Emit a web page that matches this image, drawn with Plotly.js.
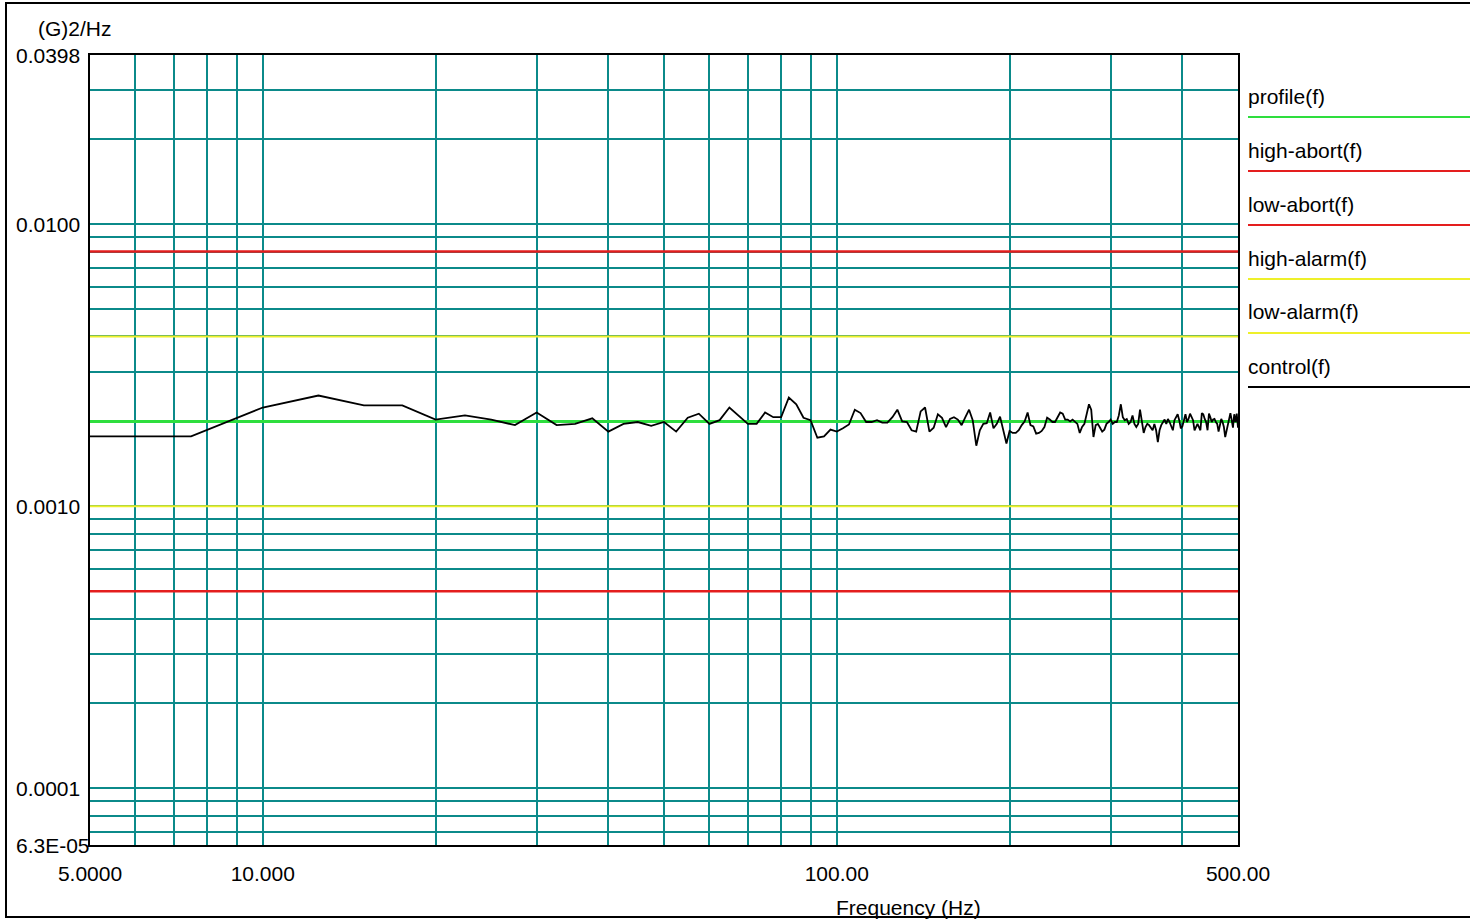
<!DOCTYPE html>
<html>
<head>
<meta charset="utf-8">
<script src="https://cdn.plot.ly/plotly-3.0.1.min.js"></script>
<style>
html,body{margin:0;padding:0;background:#fff;}
#chart{width:1474px;height:919px;}
</style>
</head>
<body>
<div id="chart"></div>
<script>
// ---------- data ----------
const controlFreq = [
  5, 7.5, 10, 12.5, 15, 17.5, 20, 22.5, 25, 27.5,
  30, 32.5, 35, 37.5, 40, 42.5, 45, 47.5, 50, 52.5,
  55, 57.5, 60, 62.5, 65, 67.5, 70, 72.5, 75, 77.5,
  80, 82.5, 85, 87.5, 90, 92.5, 95, 97.5, 100, 102.5,
  105, 107.5, 110, 112.5, 115, 117.5, 120, 122.5, 125, 127.5,
  130, 132.5, 135, 137.5, 140, 142.5, 145, 147.5, 150, 152.5,
  155, 157.5, 160, 162.5, 165, 167.5, 170, 172.5, 175, 177.5,
  180, 182.5, 185, 187.5, 190, 192.5, 195, 197.5, 200, 202.5,
  205, 207.5, 210, 212.5, 215, 217.5, 220, 222.5, 225, 227.5,
  230, 232.5, 235, 237.5, 240, 242.5, 245, 247.5, 250, 252.5,
  255, 257.5, 260, 262.5, 265, 267.5, 270, 272.5, 275, 277.5,
  280, 282.5, 285, 287.5, 290, 292.5, 295, 297.5, 300, 302.5,
  305, 307.5, 310, 312.5, 315, 317.5, 320, 322.5, 325, 327.5,
  330, 332.5, 335, 337.5, 340, 342.5, 345, 347.5, 350, 352.5,
  355, 357.5, 360, 362.5, 365, 367.5, 370, 372.5, 375, 377.5,
  380, 382.5, 385, 387.5, 390, 392.5, 395, 397.5, 400, 402.5,
  405, 407.5, 410, 412.5, 415, 417.5, 420, 422.5, 425, 427.5,
  430, 432.5, 435, 437.5, 440, 442.5, 445, 447.5, 450, 452.5,
  455, 457.5, 460, 462.5, 465, 467.5, 470, 472.5, 475, 477.5,
  480, 482.5, 485, 487.5, 490, 492.5, 495, 497.5, 500
];
const controlPSD = [
  0.00177, 0.00177, 0.00224, 0.00247, 0.00228, 0.00228, 0.00203, 0.00210, 0.00203, 0.00194,
  0.00215, 0.00194, 0.00196, 0.00205, 0.00184, 0.00196, 0.00199, 0.00193, 0.00199, 0.00184,
  0.00206, 0.00213, 0.00196, 0.00202, 0.00224, 0.00210, 0.00196, 0.00196, 0.00215, 0.00207,
  0.00207, 0.00243, 0.00230, 0.00206, 0.00202, 0.00175, 0.00177, 0.00187, 0.00184, 0.00189,
  0.00195, 0.00220, 0.00214, 0.00199, 0.00199, 0.00202, 0.00198, 0.00198, 0.00207, 0.00220,
  0.00200, 0.00199, 0.00186, 0.00184, 0.00217, 0.00224, 0.00184, 0.00190, 0.00212, 0.00206,
  0.00191, 0.00204, 0.00207, 0.00203, 0.00194, 0.00207, 0.00220, 0.00202, 0.00164, 0.00186,
  0.00196, 0.00197, 0.00215, 0.00189, 0.00196, 0.00208, 0.00186, 0.00167, 0.00185, 0.00182,
  0.00182, 0.00186, 0.00194, 0.00200, 0.00215, 0.00194, 0.00192, 0.00181, 0.00182, 0.00185,
  0.00191, 0.00206, 0.00203, 0.00199, 0.00199, 0.00207, 0.00215, 0.00213, 0.00203, 0.00203,
  0.00200, 0.00203, 0.00199, 0.00196, 0.00182, 0.00191, 0.00196, 0.00213, 0.00230, 0.00220,
  0.00176, 0.00194, 0.00196, 0.00190, 0.00184, 0.00187, 0.00196, 0.00199, 0.00203, 0.00196,
  0.00199, 0.00199, 0.00210, 0.00230, 0.00207, 0.00202, 0.00204, 0.00196, 0.00199, 0.00210,
  0.00196, 0.00191, 0.00196, 0.00220, 0.00199, 0.00182, 0.00191, 0.00196, 0.00194, 0.00190,
  0.00186, 0.00196, 0.00186, 0.00169, 0.00186, 0.00194, 0.00199, 0.00203, 0.00196, 0.00204,
  0.00199, 0.00191, 0.00186, 0.00202, 0.00207, 0.00212, 0.00202, 0.00189, 0.00192, 0.00202,
  0.00212, 0.00199, 0.00204, 0.00213, 0.00207, 0.00202, 0.00186, 0.00191, 0.00196, 0.00191,
  0.00186, 0.00214, 0.00212, 0.00204, 0.00199, 0.00186, 0.00213, 0.00207, 0.00199, 0.00203,
  0.00204, 0.00199, 0.00196, 0.00184, 0.00196, 0.00204, 0.00199, 0.00191, 0.00176, 0.00184,
  0.00196, 0.00204, 0.00214, 0.00202, 0.00190, 0.00212, 0.00199, 0.00213, 0.00190
];

const limitFreq      = [5, 500];
const profilePSD     = [0.002, 0.002];
const highAbortPSD   = [0.008, 0.008];
const lowAbortPSD    = [0.0005, 0.0005];
const highAlarmPSD   = [0.004, 0.004];
const lowAlarmPSD    = [0.001, 0.001];

const seriesNames = ['profile(f)', 'high-abort(f)', 'low-abort(f)', 'high-alarm(f)', 'low-alarm(f)', 'control(f)'];

const xGridVals  = [5, 6, 7, 8, 9, 10, 20, 30, 40, 50, 60, 70, 80, 90, 100, 200, 300, 400, 500];
const xTickText  = ['5.0000', '', '', '', '', '10.000', '', '', '', '', '', '', '', '', '100.00', '', '', '', '500.00'];
const yGridVals  = [0.00007, 0.00008, 0.00009, 0.0001, 0.0002, 0.0003, 0.0004, 0.0005, 0.0006, 0.0007, 0.0008, 0.0009,
                    0.001, 0.002, 0.003, 0.004, 0.005, 0.006, 0.007, 0.008, 0.009, 0.01, 0.02, 0.03];
const yLabelVals = [0.0398, 0.0100, 0.0010, 0.0001, 0.000063];
const yLabelText = ['0.0398', '0.0100', '0.0010', '0.0001', '6.3E-05'];
const xMin = 5, xMax = 500, yMin = 0.000063, yMax = 0.0398;

const yAxisTitle = '(G)2/Hz';
const xAxisTitle = 'Frequency (Hz)';

// ---------- styling ----------
const FONT = 'Liberation Sans, Arial, Helvetica, sans-serif';
const FS = 21;
const GRID = '#0b8a8a';
const GREEN = '#2ede3e';
const RED = '#e41e1e';
const YELLOW = '#eef02a';
const BLACK = '#000000';
const seriesColors = [GREEN, RED, RED, YELLOW, YELLOW, BLACK];

// pixel layout helpers
const W = 1474, H = 919;
const L = 90, R = 1238, T = 55, B = 845;
const px = p => (p - L) / (R - L);
const py = p => (B - p) / (B - T);

const traces = [
  {x: limitFreq, y: profilePSD,   name: seriesNames[0], mode: 'lines', line: {color: GREEN,  width: 3}},
  {x: limitFreq, y: highAbortPSD, name: seriesNames[1], mode: 'lines', line: {color: RED,    width: 2.5}},
  {x: limitFreq, y: lowAbortPSD,  name: seriesNames[2], mode: 'lines', line: {color: RED,    width: 2.5}},
  {x: limitFreq, y: highAlarmPSD, name: seriesNames[3], mode: 'lines', line: {color: YELLOW, width: 2}},
  {x: limitFreq, y: lowAlarmPSD,  name: seriesNames[4], mode: 'lines', line: {color: YELLOW, width: 2}},
  {x: controlFreq, y: controlPSD, name: seriesNames[5], mode: 'lines', line: {color: BLACK, width: 1.8}}
];

const annotations = [];
const shapes = [];

// y tick labels (left aligned as in the original)
yLabelVals.forEach((v, i) => {
  annotations.push({
    xref: 'paper', yref: 'y', x: px(14), y: Math.log10(v),
    text: yLabelText[i], showarrow: false, xanchor: 'left', yanchor: 'middle',
    font: {family: FONT, size: FS, color: '#000'}
  });
});

// axis titles
annotations.push({
  xref: 'paper', yref: 'paper', x: px(36), y: py(28), text: yAxisTitle,
  showarrow: false, xanchor: 'left', yanchor: 'middle',
  font: {family: FONT, size: FS, color: '#000'}
});
annotations.push({
  xref: 'paper', yref: 'paper', x: px(908), y: py(907), text: xAxisTitle,
  showarrow: false, xanchor: 'center', yanchor: 'middle',
  font: {family: FONT, size: FS, color: '#000'}
});

// legend: label with a coloured line beneath
seriesNames.forEach((n, i) => {
  annotations.push({
    xref: 'paper', yref: 'paper', x: px(1246), y: py(96 + 54 * i), text: n,
    showarrow: false, xanchor: 'left', yanchor: 'middle',
    font: {family: FONT, size: FS, color: '#000'}
  });
  shapes.push({
    type: 'line', xref: 'paper', yref: 'paper',
    x0: px(1248), x1: px(1470), y0: py(117 + 54 * i), y1: py(117 + 54 * i),
    line: {color: seriesColors[i], width: 2}
  });
});

// outer frame (top, left, bottom)
[[5, 3, 1470, 3], [6, 3, 6, 917], [5, 917, 1470, 917]].forEach(s => {
  shapes.push({
    type: 'line', xref: 'paper', yref: 'paper',
    x0: px(s[0]), y0: py(s[1]), x1: px(s[2]), y1: py(s[3]),
    line: {color: '#000', width: 2}
  });
});

const layout = {
  width: W, height: H,
  margin: {l: L, r: W - R, t: T, b: H - B, pad: 0},
  paper_bgcolor: '#fff', plot_bgcolor: '#fff',
  showlegend: false,
  font: {family: FONT, size: FS, color: '#000'},
  xaxis: {
    type: 'log', range: [Math.log10(xMin), Math.log10(xMax)],
    tickmode: 'array', tickvals: xGridVals, ticktext: xTickText,
    showgrid: true, gridcolor: GRID, gridwidth: 2,
    showline: true, mirror: true, linecolor: '#000', linewidth: 2,
    ticks: '', zeroline: false, ticklabelstandoff: 9,
    tickfont: {family: FONT, size: FS, color: '#000'}
  },
  yaxis: {
    type: 'log', range: [Math.log10(yMin), Math.log10(yMax)],
    tickmode: 'array', tickvals: yGridVals, showticklabels: false,
    showgrid: true, gridcolor: GRID, gridwidth: 2,
    showline: true, mirror: true, linecolor: '#000', linewidth: 2,
    ticks: '', zeroline: false
  },
  annotations: annotations,
  shapes: shapes
};

Plotly.newPlot('chart', traces, layout, {displayModeBar: false, staticPlot: true});
</script>
</body>
</html>
